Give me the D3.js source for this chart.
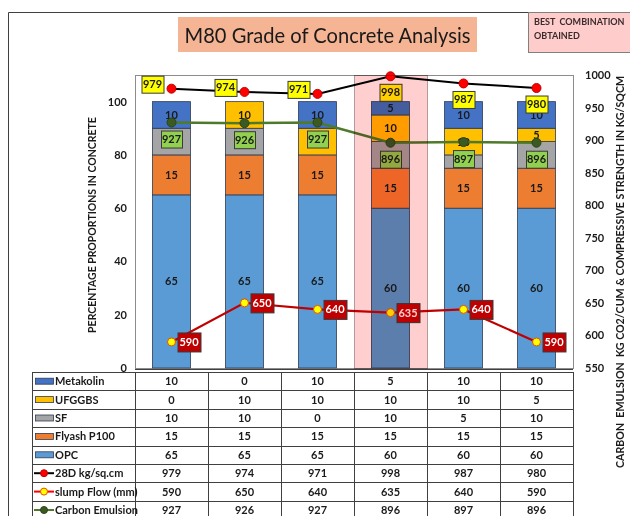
<!DOCTYPE html>
<html>
<head>
  <meta charset="utf-8">
  <title>M80 Grade of Concrete Analysis</title>
  <style>
    body { margin: 0; background: #fff; }
    svg  { font-family: "Lato", "Open Sans", sans-serif; }
    .num { font-weight: bold; font-size: 11px; fill: #1a1a1a; }
  </style>
</head>
<body>
  <script src="https://cdn.jsdelivr.net/npm/d3@7"></script>

  <svg width="630" height="516"></svg>

  <script>
    // mixes (no names shown on the chart)
    var mixes = ["Mix 1", "Mix 2", "Mix 3", "Mix 4", "Mix 5", "Mix 6"];

    // percentage proportions
    var metakolin = [10, 0, 10, 5, 10, 10];
    var ufggbs    = [0, 10, 10, 10, 10, 5];
    var sf        = [10, 10, 0, 10, 5, 10];
    var flyash    = [15, 15, 15, 15, 15, 15];
    var opc       = [65, 65, 65, 60, 60, 60];

    // secondary axis series
    var strength28 = [979, 974, 971, 998, 987, 980];
    var slumpFlow  = [590, 650, 640, 635, 640, 590];
    var carbonEm   = [927, 926, 927, 896, 897, 896];

    var leftTicks  = [0, 20, 40, 60, 80, 100];
    var rightTicks = [550, 600, 650, 700, 750, 800, 850, 900, 950, 1000];

    var bestMix = "Mix 4";

    var svg = d3.select("svg");
    svg.append("rect").attr("width", 630).attr("height", 516).attr("fill", "#fff");

    // plot box
    var L = 135, R = 573, T = 75, B = 368;

    var x = d3.scaleBand().domain(mixes).range([L, R]).paddingInner(0.48).paddingOuter(0.24);
    var col = d3.scaleBand().domain(mixes).range([L, R]);
    var yL = d3.scaleLinear().domain([0, 110]).range([B, T]);
    var yR = d3.scaleLinear().domain([550, 1000]).range([B, T]);

    // outer frame
    svg.append("path").attr("d", "M8.5,516V12.5H528").attr("fill", "none").attr("stroke", "#404040");

    // title
    svg.append("rect").attr("x", 178).attr("y", 17).attr("width", 299).attr("height", 35).attr("fill", "#f5b493");
    svg.append("text").attr("x", 327.5).attr("y", 43).attr("text-anchor", "middle")
      .attr("font-size", 22).attr("fill", "#1a1a1a").attr("textLength", 286).attr("lengthAdjust", "spacingAndGlyphs")
      .text("M80 Grade of Concrete Analysis");

    // best combination note
    svg.append("rect").attr("x", 528.5).attr("y", 12.5).attr("width", 110).attr("height", 40)
      .attr("fill", "#ffcccc").attr("stroke", "#808080");
    svg.append("text").attr("x", 534).attr("y", 25).attr("font-size", 9).attr("font-weight", "bold").attr("fill", "#3b2b2b")
      .attr("xml:space", "preserve").text("BEST  COMBINATION");
    svg.append("text").attr("x", 534).attr("y", 39).attr("font-size", 9).attr("font-weight", "bold").attr("fill", "#3b2b2b")
      .text("OBTAINED");

    // plot area border
    svg.append("rect").attr("x", L + 0.5).attr("y", T + 0.5).attr("width", R - L).attr("height", B - T)
      .attr("fill", "none").attr("stroke", "#8c8c8c");

    // stacked bars
    var keys = ["opc", "flyash", "sf", "ufggbs", "metakolin"];
    var colors = { opc: "#5b9bd5", flyash: "#ed7d31", sf: "#a5a5a5", ufggbs: "#ffc000", metakolin: "#4472c4" };
    var rows = mixes.map(function (m, i) {
      return { mix: m, opc: opc[i], flyash: flyash[i], sf: sf[i], ufggbs: ufggbs[i], metakolin: metakolin[i] };
    });
    var stacked = d3.stack().keys(keys)(rows);

    var plot = svg.append("g");
    var layers = plot.selectAll("g.layer").data(stacked).enter().append("g").attr("class", "layer")
      .attr("fill", function (d) { return colors[d.key]; });
    layers.selectAll("rect").data(function (d) { return d.filter(function (s) { return s[1] > s[0]; }); })
      .enter().append("rect")
      .attr("x", function (d) { return x(d.data.mix); })
      .attr("y", function (d) { return yL(d[1]); })
      .attr("width", x.bandwidth())
      .attr("height", function (d) { return yL(d[0]) - yL(d[1]); })
      .attr("stroke", "#2f3b52").attr("stroke-width", 0.8);
    layers.selectAll("text").data(function (d) { return d.filter(function (s) { return s[1] > s[0]; }); })
      .enter().append("text").attr("class", "num")
      .attr("x", function (d) { return x(d.data.mix) + x.bandwidth() / 2; })
      .attr("y", function (d) { return (yL(d[0]) + yL(d[1])) / 2 + 4; })
      .attr("text-anchor", "middle")
      .text(function (d) { return d[1] - d[0]; });

    // lines
    var cx = function (d, i) { return x(mixes[i]) + x.bandwidth() / 2; };
    function drawLine(values, stroke, width) {
      plot.append("path").datum(values)
        .attr("d", d3.line().x(cx).y(function (d) { return yR(d); }))
        .attr("fill", "none").attr("stroke", stroke).attr("stroke-width", width);
    }
    drawLine(strength28, "#000", 2);
    drawLine(carbonEm, "#4f7a2c", 2.5);
    drawLine(slumpFlow, "#c00000", 2.2);

    function markers(values, fill, stroke, r) {
      plot.append("g").selectAll("circle").data(values).enter().append("circle")
        .attr("cx", cx).attr("cy", function (d) { return yR(d); }).attr("r", r)
        .attr("fill", fill).attr("stroke", stroke).attr("stroke-width", 1);
    }
    markers(strength28, "#ff0000", "#c00000", 4.5);
    markers(carbonEm, "#3b5a22", "#2c4418", 4.5);
    markers(slumpFlow, "#ffff00", "#e65000", 4);

    function labels(values, fill, textFill, w, h, pos) {
      var g = plot.append("g").selectAll("g").data(values).enter().append("g")
        .attr("transform", function (d, i) {
          var p = pos(i), px = cx(d, i) + p[0], py = yR(d) + p[1];
          return "translate(" + px + "," + py + ")";
        });
      g.append("rect").attr("x", -w / 2 + 0.5).attr("y", -h / 2 + 0.5).attr("width", w).attr("height", h)
        .attr("fill", fill).attr("stroke", "#3a3a3a").attr("stroke-width", 1);
      g.append("text").attr("class", "num").attr("text-anchor", "middle").attr("y", 4)
        .style("fill", textFill).text(function (d) { return d; });
    }
    labels(strength28, "#ffff00", "#1a1a1a", 22, 17, function (i) { return i < 3 ? [-19, -4.5] : [0, 16]; });
    labels(carbonEm, "#92d050", "#1a1a1a", 21, 17, function () { return [0, 16.5]; });
    labels(slumpFlow, "#c00000", "#ffffff", 23, 19, function () { return [17.5, 0]; });

    // highlight of best combination
    svg.append("rect")
      .attr("x", col(bestMix) + 0.5).attr("y", T + 0.5).attr("width", col.bandwidth()).attr("height", B - T)
      .attr("fill", "#ffcfcf").attr("stroke", "#b39a9a").attr("stroke-width", 1)
      .style("mix-blend-mode", "multiply");

    // left axis
    var axL = svg.append("g").attr("transform", "translate(" + (L - 6) + ",0)")
      .call(d3.axisLeft(yL).tickValues(leftTicks).tickSize(0).tickPadding(2));
    axL.select(".domain").remove();
    axL.selectAll("text").attr("font-family", "Lato").attr("font-size", 11).attr("font-weight", "bold").attr("fill", "#1a1a1a");

    // right axis
    var axR = svg.append("g").attr("transform", "translate(" + (R + 10) + ",0)")
      .call(d3.axisRight(yR).tickValues(rightTicks).tickFormat(d3.format("d")).tickSize(0).tickPadding(2));
    axR.select(".domain").remove();
    axR.selectAll("text").attr("font-family", "Lato").attr("font-size", 11).attr("font-weight", "bold").attr("fill", "#1a1a1a");

    // axis titles
    svg.append("text").attr("transform", "translate(96,225) rotate(-90)").attr("text-anchor", "middle")
      .attr("font-size", 10.5).attr("font-weight", "bold").attr("fill", "#1a1a1a")
      .text("PERCENTAGE PROPORTIONS IN CONCRETE");
    svg.append("text").attr("transform", "translate(624,272) rotate(-90)").attr("text-anchor", "middle")
      .attr("font-size", 10.5).attr("font-weight", "bold").attr("fill", "#1a1a1a").attr("xml:space", "preserve")
      .attr("textLength", 392).attr("lengthAdjust", "spacingAndGlyphs")
      .text("CARBON  EMULSION  KG CO2/CUM & COMPRESSIVE STRENGTH IN KG/SQCM");

    // data table
    var tableRows = [
      { name: "Metakolin", values: metakolin, type: "bar", color: colors.metakolin },
      { name: "UFGGBS", values: ufggbs, type: "bar", color: colors.ufggbs },
      { name: "SF", values: sf, type: "bar", color: colors.sf },
      { name: "Flyash P100", values: flyash, type: "bar", color: colors.flyash },
      { name: "OPC", values: opc, type: "bar", color: colors.opc },
      { name: "28D kg/sq.cm", values: strength28, type: "line", color: "#000", dot: "#ff0000", dotStroke: "#c00000" },
      { name: "slump Flow (mm)", values: slumpFlow, type: "line", color: "#ff0000", dot: "#ffff00", dotStroke: "#e65000" },
      { name: "Carbon Emulsion", values: carbonEm, type: "line", color: "#4f7a2c", dot: "#3b5a22", dotStroke: "#2c4418" }
    ];
    var tTop = 372, rowH = 18.4, tLeft = 32;
    var row = d3.scaleBand().domain(d3.range(tableRows.length)).range([tTop, tTop + rowH * tableRows.length]);

    svg.append("line").attr("x1", L).attr("x2", R).attr("y1", B + 1.5).attr("y2", B + 1.5).attr("stroke", "#404040");
    var grid = svg.append("g").attr("stroke", "#404040").attr("stroke-width", 1);
    d3.range(tableRows.length + 1).forEach(function (k) {
      var yy = Math.round(tTop + k * rowH) + 0.5;
      grid.append("line").attr("x1", tLeft).attr("x2", R).attr("y1", yy).attr("y2", yy);
    });
    [tLeft, L].concat(mixes.map(function (m) { return col(m) + col.bandwidth(); })).forEach(function (xx) {
      grid.append("line").attr("x1", Math.round(xx) + 0.5).attr("x2", Math.round(xx) + 0.5).attr("y1", tTop).attr("y2", 516);
    });

    var tr = svg.append("g").selectAll("g").data(tableRows).enter().append("g")
      .attr("transform", function (d, i) { return "translate(0," + (row(i) + row.bandwidth() / 2) + ")"; });
    tr.each(function (d) {
      var g = d3.select(this);
      if (d.type === "bar") {
        g.append("rect").attr("x", 35.5).attr("y", -3).attr("width", 18).attr("height", 6)
          .attr("fill", d.color).attr("stroke", "#2f3b52").attr("stroke-width", 0.8);
      } else {
        g.append("line").attr("x1", 34).attr("x2", 54).attr("stroke", d.color).attr("stroke-width", 2);
        g.append("circle").attr("cx", 44).attr("r", 3.5).attr("fill", d.dot).attr("stroke", d.dotStroke);
      }
      g.append("text").attr("class", "num").attr("x", 55).attr("y", 4).text(d.name);
      g.selectAll("text.v").data(d.values).enter().append("text").attr("class", "num v")
        .attr("x", function (v, i) { return col(mixes[i]) + col.bandwidth() / 2; })
        .attr("y", 4).attr("text-anchor", "middle").text(function (v) { return v; });
    });
  </script>
</body>
</html>
